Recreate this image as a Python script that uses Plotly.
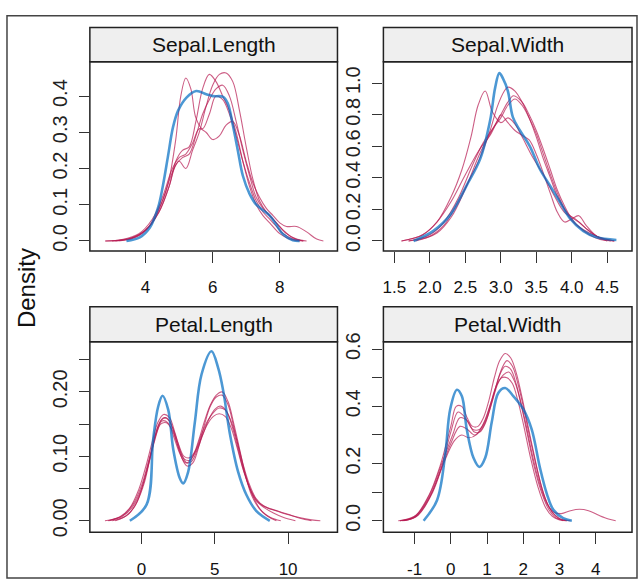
import plotly.graph_objects as go

# ---- data ----
panel_titles = ["Sepal.Length", "Sepal.Width", "Petal.Length", "Petal.Width"]

# Sepal.Length
sl_obs_x = [3.43, 3.83, 4.13, 4.37, 4.52, 4.67, 4.82, 4.97, 5.22, 5.51, 5.81, 6.01, 6.31, 6.45,
            6.60, 6.75, 6.90, 7.10, 7.30, 7.50, 7.70, 7.89, 8.09, 8.39, 8.59]
sl_obs_y = [0, 0.01, 0.037, 0.091, 0.154, 0.235, 0.315, 0.36, 0.396, 0.414, 0.405, 0.40, 0.398, 0.38,
            0.32, 0.25, 0.18, 0.13, 0.10, 0.085, 0.07, 0.046, 0.019, 0.002, 0]
sl_imp_x = [
    [2.8, 3.3, 3.8, 4.2, 4.5, 4.7, 4.9, 5.05, 5.2, 5.35, 5.5, 5.7, 5.9, 6.1, 6.3, 6.5, 6.7, 6.9,
     7.1, 7.3, 7.5, 7.7, 7.9, 8.1, 8.4, 8.7],
    [3.0, 3.5, 4.0, 4.4, 4.7, 4.9, 5.1, 5.3, 5.5, 5.7, 5.9, 6.1, 6.3, 6.5, 6.7, 6.9, 7.1, 7.3,
     7.5, 7.7, 8.0, 8.3, 8.6],
    [3.2, 3.7, 4.1, 4.5, 4.8, 5.0, 5.2, 5.4, 5.6, 5.8, 6.0, 6.2, 6.4, 6.6, 6.8, 7.0, 7.2, 7.4,
     7.6, 7.8, 8.1, 8.4, 8.7],
    [2.8, 3.3, 3.8, 4.2, 4.5, 4.8, 5.0, 5.2, 5.4, 5.6, 5.8, 6.0, 6.2, 6.4, 6.6, 6.8, 7.0, 7.2,
     7.4, 7.6, 7.8, 8.0, 8.2, 8.5, 8.8, 9.1, 9.3],
    [3.1, 3.6, 4.0, 4.4, 4.7, 4.9, 5.1, 5.3, 5.5, 5.7, 5.9, 6.1, 6.3, 6.5, 6.7, 6.9, 7.1, 7.3,
     7.5, 7.7, 7.9, 8.2, 8.5, 8.8],
]
sl_imp_y = [
    [0, 0.003, 0.015, 0.05, 0.11, 0.17, 0.28, 0.40, 0.45, 0.42, 0.34, 0.31, 0.35, 0.40, 0.39, 0.35,
     0.29, 0.22, 0.16, 0.11, 0.08, 0.06, 0.04, 0.02, 0.005, 0],
    [0, 0.006, 0.03, 0.08, 0.15, 0.22, 0.25, 0.26, 0.33, 0.42, 0.46, 0.44, 0.40, 0.36, 0.30, 0.22,
     0.15, 0.10, 0.07, 0.05, 0.02, 0.005, 0],
    [0, 0.01, 0.04, 0.11, 0.19, 0.22, 0.20, 0.25, 0.30, 0.37, 0.43, 0.46, 0.464, 0.44, 0.36, 0.26,
     0.17, 0.11, 0.08, 0.06, 0.03, 0.008, 0],
    [0, 0.004, 0.02, 0.06, 0.12, 0.20, 0.23, 0.24, 0.27, 0.31, 0.30, 0.28, 0.29, 0.32, 0.33, 0.29,
     0.22, 0.16, 0.12, 0.09, 0.07, 0.05, 0.04, 0.04, 0.025, 0.005, 0],
    [0, 0.008, 0.03, 0.08, 0.15, 0.21, 0.23, 0.24, 0.29, 0.35, 0.39, 0.42, 0.43, 0.40, 0.33, 0.25,
     0.18, 0.12, 0.09, 0.07, 0.05, 0.02, 0.005, 0],
]

# Sepal.Width
sw_obs_x = [1.77, 2.05, 2.29, 2.52, 2.71, 2.85, 2.92, 2.98, 3.03, 3.10, 3.17, 3.27, 3.41, 3.55,
            3.69, 3.83, 3.97, 4.16, 4.35, 4.63]
sw_obs_y = [0, 0.064, 0.167, 0.353, 0.52, 0.765, 0.97, 1.064, 1.03, 0.95, 0.785, 0.70, 0.60, 0.456,
            0.353, 0.25, 0.146, 0.064, 0.023, 0.006]
sw_imp_x = [
    [1.6, 1.9, 2.1, 2.3, 2.45, 2.58, 2.68, 2.78, 2.88, 3.0, 3.1, 3.2, 3.3, 3.45, 3.6, 3.75, 3.9,
     4.05, 4.2, 4.4, 4.55],
    [1.7, 2.0, 2.2, 2.4, 2.55, 2.7, 2.85, 2.95, 3.05, 3.1, 3.2, 3.3, 3.4, 3.5, 3.6, 3.7, 3.8, 3.9,
     4.0, 4.1, 4.2, 4.35, 4.5, 4.6],
    [1.8, 2.1, 2.3, 2.5, 2.7, 2.85, 3.0, 3.1, 3.18, 3.3, 3.4, 3.5, 3.6, 3.7, 3.8, 3.9, 4.0, 4.1,
     4.25, 4.4, 4.6],
    [1.6, 1.9, 2.1, 2.3, 2.5, 2.7, 2.85, 2.95, 3.0, 3.1, 3.2, 3.3, 3.4, 3.5, 3.6, 3.7, 3.8, 3.9,
     4.0, 4.1, 4.2, 4.35, 4.5],
    [1.7, 2.0, 2.2, 2.4, 2.6, 2.75, 2.9, 3.0, 3.1, 3.2, 3.3, 3.4, 3.5, 3.6, 3.7, 3.8, 3.9, 4.0,
     4.1, 4.25, 4.4, 4.6],
]
sw_imp_y = [
    [0, 0.04, 0.12, 0.28, 0.45, 0.66, 0.86, 0.95, 0.82, 0.75, 0.78, 0.74, 0.66, 0.53, 0.42, 0.29,
     0.18, 0.14, 0.08, 0.02, 0],
    [0, 0.03, 0.1, 0.25, 0.38, 0.52, 0.70, 0.85, 0.95, 0.975, 0.95, 0.88, 0.78, 0.66, 0.52, 0.40,
     0.28, 0.20, 0.15, 0.12, 0.08, 0.03, 0.01, 0],
    [0, 0.05, 0.15, 0.33, 0.55, 0.68, 0.80, 0.88, 0.92, 0.88, 0.80, 0.70, 0.58, 0.45, 0.32, 0.22,
     0.14, 0.09, 0.04, 0.01, 0],
    [0, 0.04, 0.12, 0.25, 0.42, 0.58, 0.67, 0.76, 0.80, 0.75, 0.70, 0.67, 0.64, 0.55, 0.43, 0.30,
     0.18, 0.12, 0.14, 0.16, 0.10, 0.03, 0],
    [0, 0.04, 0.12, 0.27, 0.48, 0.62, 0.72, 0.78, 0.86, 0.90, 0.86, 0.78, 0.68, 0.55, 0.42, 0.30,
     0.20, 0.13, 0.09, 0.05, 0.02, 0],
]

# Petal.Length
pl_obs_x = [-0.80, 0.34, 0.79, 1.13, 1.43, 1.82, 2.16, 2.61, 2.84, 3.18, 3.63, 4.09, 4.77, 5.23,
            5.57, 6.02, 6.59, 7.16, 7.84, 8.75]
pl_obs_y = [0, 0.025, 0.126, 0.177, 0.194, 0.172, 0.111, 0.066, 0.058, 0.076, 0.152, 0.227, 0.263,
            0.237, 0.202, 0.136, 0.076, 0.040, 0.015, 0]
pl_imp_x = [
    [-2.5, -1.5, -0.8, -0.2, 0.3, 0.7, 1.1, 1.5, 1.9, 2.3, 2.7, 3.1, 3.5, 3.9, 4.3, 4.7, 5.1, 5.5,
     5.9, 6.3, 6.7, 7.1, 7.5, 8.0, 8.6, 9.2],
    [-2.3, -1.3, -0.6, 0, 0.5, 0.9, 1.3, 1.7, 2.1, 2.5, 2.9, 3.3, 3.7, 4.1, 4.5, 4.9, 5.3, 5.7,
     6.1, 6.5, 6.9, 7.3, 7.8, 8.4, 9.0, 9.6, 10.4, 11.2, 12.2],
    [-2.0, -1.1, -0.4, 0.2, 0.6, 1.0, 1.4, 1.8, 2.2, 2.6, 3.0, 3.4, 3.8, 4.2, 4.6, 5.0, 5.4, 5.8,
     6.2, 6.6, 7.0, 7.5, 8.0, 8.6, 9.3, 10.0, 10.8, 11.6],
    [-1.8, -0.9, -0.3, 0.2, 0.7, 1.1, 1.5, 1.9, 2.3, 2.7, 3.1, 3.5, 3.9, 4.3, 4.7, 5.1, 5.5, 5.9,
     6.3, 6.7, 7.1, 7.6, 8.2, 8.8, 9.5],
    [-2.2, -1.3, -0.6, 0, 0.5, 0.9, 1.3, 1.7, 2.1, 2.5, 2.9, 3.3, 3.7, 4.1, 4.5, 4.9, 5.3, 5.7,
     6.1, 6.5, 6.9, 7.3, 7.8, 8.4, 9.0, 9.7, 10.5],
]
pl_imp_y = [
    [0, 0.006, 0.02, 0.048, 0.085, 0.12, 0.152, 0.165, 0.16, 0.135, 0.105, 0.09, 0.10, 0.125,
     0.155, 0.18, 0.195, 0.2, 0.185, 0.15, 0.11, 0.07, 0.04, 0.02, 0.007, 0],
    [0, 0.008, 0.025, 0.055, 0.095, 0.13, 0.155, 0.16, 0.145, 0.12, 0.1, 0.098, 0.11, 0.135, 0.155,
     0.168, 0.175, 0.172, 0.155, 0.125, 0.09, 0.06, 0.035, 0.022, 0.017, 0.012, 0.007, 0.003, 0],
    [0, 0.007, 0.025, 0.065, 0.1, 0.135, 0.155, 0.152, 0.13, 0.105, 0.09, 0.092, 0.11, 0.135,
     0.158, 0.173, 0.178, 0.17, 0.145, 0.11, 0.075, 0.045, 0.028, 0.02, 0.015, 0.01, 0.004, 0],
    [0, 0.01, 0.03, 0.06, 0.11, 0.145, 0.16, 0.155, 0.13, 0.1, 0.085, 0.09, 0.115, 0.15, 0.178,
     0.192, 0.195, 0.18, 0.145, 0.105, 0.07, 0.038, 0.015, 0.005, 0],
    [0, 0.007, 0.022, 0.05, 0.09, 0.125, 0.15, 0.152, 0.14, 0.115, 0.096, 0.094, 0.108, 0.13,
     0.15, 0.162, 0.166, 0.162, 0.145, 0.115, 0.082, 0.055, 0.032, 0.02, 0.012, 0.005, 0],
]

# Petal.Width
pw_obs_x = [-0.75, -0.38, -0.155, -0.017, 0.168, 0.306, 0.44, 0.625, 0.79, 0.95, 1.13, 1.31, 1.50,
            1.73, 2.0, 2.23, 2.46, 2.65, 2.83, 3.10, 3.34]
pw_obs_y = [0, 0.072, 0.231, 0.39, 0.458, 0.435, 0.32, 0.22, 0.188, 0.22, 0.345, 0.447, 0.464,
            0.435, 0.39, 0.32, 0.185, 0.094, 0.038, 0.009, 0]
pw_imp_x = [
    [-1.45, -1.0, -0.6, -0.3, 0, 0.15, 0.3, 0.45, 0.6, 0.75, 0.9, 1.05, 1.2, 1.35, 1.5, 1.65, 1.8,
     1.95, 2.1, 2.3, 2.5, 2.7, 2.9, 3.1],
    [-1.4, -0.95, -0.55, -0.25, 0.05, 0.25, 0.45, 0.65, 0.8, 0.95, 1.1, 1.25, 1.4, 1.55, 1.7, 1.85,
     2.0, 2.2, 2.4, 2.6, 2.8, 3.0, 3.3],
    [-1.3, -0.9, -0.5, -0.2, 0.1, 0.3, 0.5, 0.7, 0.9, 1.05, 1.2, 1.35, 1.5, 1.65, 1.8, 1.95, 2.1,
     2.3, 2.5, 2.7, 2.9, 3.2],
    [-1.4, -1.0, -0.6, -0.3, 0, 0.25, 0.45, 0.65, 0.85, 1.0, 1.15, 1.3, 1.45, 1.6, 1.75, 1.9, 2.05,
     2.25, 2.45, 2.65, 2.85, 3.05, 3.3, 3.55, 3.8, 4.1, 4.35, 4.55],
    [-1.35, -0.95, -0.55, -0.25, 0.0, 0.2, 0.4, 0.6, 0.8, 0.95, 1.1, 1.25, 1.4, 1.55, 1.7, 1.85,
     2.0, 2.2, 2.4, 2.6, 2.8, 3.0, 3.2],
]
pw_imp_y = [
    [0, 0.015, 0.09, 0.19, 0.33, 0.40, 0.40, 0.36, 0.33, 0.33, 0.36, 0.42, 0.50, 0.56, 0.585, 0.57,
     0.52, 0.44, 0.35, 0.23, 0.12, 0.05, 0.015, 0],
    [0, 0.02, 0.1, 0.2, 0.3, 0.36, 0.35, 0.31, 0.31, 0.34, 0.40, 0.47, 0.53, 0.56, 0.54, 0.48,
     0.40, 0.28, 0.17, 0.08, 0.03, 0.008, 0],
    [0, 0.02, 0.1, 0.2, 0.28, 0.30, 0.29, 0.30, 0.34, 0.39, 0.45, 0.51, 0.54, 0.53, 0.48, 0.40,
     0.31, 0.19, 0.10, 0.04, 0.01, 0],
    [0, 0.012, 0.08, 0.17, 0.27, 0.33, 0.32, 0.30, 0.32, 0.36, 0.42, 0.48, 0.51, 0.52, 0.49, 0.43,
     0.35, 0.23, 0.13, 0.06, 0.03, 0.025, 0.035, 0.04, 0.035, 0.018, 0.006, 0],
    [0, 0.015, 0.09, 0.19, 0.31, 0.38, 0.36, 0.32, 0.32, 0.35, 0.41, 0.47, 0.50, 0.50, 0.48, 0.42,
     0.34, 0.22, 0.12, 0.05, 0.015, 0.003, 0],
]

# axis ticks per panel
sl_xticks = [4, 6, 8]
sl_yticks = [0, 0.1, 0.2, 0.3, 0.4]
sl_ylabels = ["0.0", "0.1", "0.2", "0.3", "0.4"]
sw_xticks = [1.5, 2.0, 2.5, 3.0, 3.5, 4.0, 4.5]
sw_yticks = [0, 0.2, 0.4, 0.6, 0.8, 1.0]
sw_ylabels = ["0.0", "0.2", "0.4", "0.6", "0.8", "1.0"]
pl_xticks = [0, 5, 10]
pl_yticks = [0, 0.05, 0.10, 0.15, 0.20, 0.25]
pl_ylabels = ["0.00", "", "0.10", "", "0.20", ""]
pw_xticks = [-1, 0, 1, 2, 3, 4]
pw_yticks = [0, 0.1, 0.2, 0.3, 0.4, 0.5, 0.6]
pw_ylabels = ["0.0", "", "0.2", "", "0.4", "", "0.6"]

# ---- layout helpers ----
W, H = 639, 585
OBS_COL = "rgba(0,108,194,0.7)"
IMP_COL = "rgba(182,26,81,0.7)"
SANS = "Liberation Sans, Arial"


def fx(p):
    return p / W


def fy(p):
    return 1 - p / H


# (left, right, strip top, plot top, plot bottom) in pixels
boxes = [
    (89, 337, 19, 54, 248),
    (383, 632, 19, 54, 248),
    (89, 337, 305, 341, 536),
    (383, 632, 305, 341, 536),
]
xranges = [[2.34, 9.72], [1.345, 4.85], [-3.53, 13.37], [-1.86, 5.0]]
yranges = [[-0.028, 0.495], [-0.064, 1.136], [-0.0177, 0.2777], [-0.04, 0.6256]]

panels = [
    (sl_obs_x, sl_obs_y, sl_imp_x, sl_imp_y, sl_xticks, sl_yticks, sl_ylabels),
    (sw_obs_x, sw_obs_y, sw_imp_x, sw_imp_y, sw_xticks, sw_yticks, sw_ylabels),
    (pl_obs_x, pl_obs_y, pl_imp_x, pl_imp_y, pl_xticks, pl_yticks, pl_ylabels),
    (pw_obs_x, pw_obs_y, pw_imp_x, pw_imp_y, pw_xticks, pw_yticks, pw_ylabels),
]

fig = go.Figure()
shapes = []
annotations = []
layout_axes = {}

for i, (ox, oy, ix, iy, xt, yt, yl) in enumerate(panels):
    n = "" if i == 0 else str(i + 1)
    xref, yref = "x" + n, "y" + n
    for cx, cy in zip(ix, iy):
        fig.add_trace(go.Scatter(x=cx, y=cy, mode="lines", xaxis=xref, yaxis=yref,
                                 line=dict(color=IMP_COL, width=1.1, shape="spline"),
                                 showlegend=False, hoverinfo="skip"))
    fig.add_trace(go.Scatter(x=ox, y=oy, mode="lines", xaxis=xref, yaxis=yref,
                             line=dict(color=OBS_COL, width=2.6, shape="spline"),
                             showlegend=False, hoverinfo="skip"))

    l, r, st, pt, pb = boxes[i]
    layout_axes["xaxis" + n] = dict(
        domain=[fx(l), fx(r)], range=xranges[i], anchor=yref,
        tickvals=xt, ticktext=[f"{v:g}" if i != 1 else f"{v:.1f}" for v in xt],
        ticks="outside", ticklen=11, tickcolor="#333", tickwidth=1.2,
        ticklabelstandoff=10,
        showgrid=False, zeroline=False, showline=False,
        tickfont=dict(family=SANS, size=17, color="#111"),
    )
    layout_axes["yaxis" + n] = dict(
        domain=[fy(pb), fy(pt)], range=yranges[i], anchor=xref,
        tickvals=yt, ticktext=yl, tickangle=-90,
        ticks="outside", ticklen=10, tickcolor="#333", tickwidth=1.2,
        ticklabelstandoff=4,
        showgrid=False, zeroline=False, showline=False,
        tickfont=dict(family=SANS, size=20, color="#222"),
    )
    # strip
    shapes.append(dict(type="rect", xref="paper", yref="paper",
                       x0=fx(l), x1=fx(r), y0=fy(pt), y1=fy(st),
                       fillcolor="#efefef", line=dict(color="#222", width=1.5), layer="below"))
    # panel border
    shapes.append(dict(type="rect", xref="paper", yref="paper",
                       x0=fx(l), x1=fx(r), y0=fy(pb), y1=fy(pt),
                       line=dict(color="#222", width=1.5)))
    annotations.append(dict(text=panel_titles[i], xref="paper", yref="paper",
                            x=fx((l + r) / 2), y=fy((st + pt) / 2), showarrow=False,
                            xanchor="center", yanchor="middle",
                            font=dict(family=SANS, size=21, color="#111")))

# outer frame
shapes.append(dict(type="rect", xref="paper", yref="paper",
                   x0=fx(6), x1=fx(637), y0=fy(583), y1=fy(7),
                   line=dict(color="#444", width=1.5)))

annotations.append(dict(text="Density", xref="paper", yref="paper",
                        x=fx(25), y=fy(286), showarrow=False, textangle=-90,
                        xanchor="center", yanchor="middle",
                        font=dict(family=SANS, size=24, color="#111")))

fig.update_layout(
    width=W, height=H,
    margin=dict(l=0, r=0, t=0, b=0),
    paper_bgcolor="white", plot_bgcolor="white",
    shapes=shapes, annotations=annotations,
    **layout_axes,
)

fig.write_html("out.html", config={"displayModeBar": False},
               post_script="document.body.style.margin='0';document.body.style.overflow='hidden';")
